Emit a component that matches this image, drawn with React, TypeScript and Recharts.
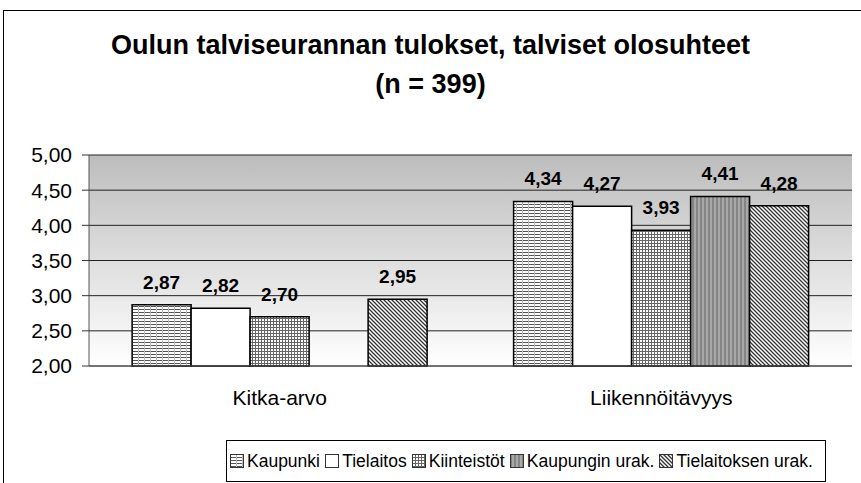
import React from 'react';
import { BarChart, Bar, XAxis, YAxis, CartesianGrid, LabelList } from 'recharts';

const categories = ['Kitka-arvo', 'Liikennöitävyys'];
const kaupunki = [2.87, 4.34];
const tielaitos = [2.82, 4.27];
const kiinteistot = [2.7, 3.93];
const kaupunginUrak = [null, 4.41];
const tielaitoksenUrak = [2.95, 4.28];
const yTicks = [2, 2.5, 3, 3.5, 4, 4.5, 5];

const data = categories.map((name, i) => ({
    name,
    kaupunki: kaupunki[i],
    tielaitos: tielaitos[i],
    kiinteistot: kiinteistot[i],
    kaupunginUrak: kaupunginUrak[i],
    tielaitoksenUrak: tielaitoksenUrak[i],
}));

const series = [
    { key: 'kaupunki', name: 'Kaupunki', fill: 'url(#pKaupunki)' },
    { key: 'tielaitos', name: 'Tielaitos', fill: '#ffffff' },
    { key: 'kiinteistot', name: 'Kiinteistöt', fill: 'url(#pKiint)' },
    { key: 'kaupunginUrak', name: 'Kaupungin urak.', fill: 'url(#pKurak)' },
    { key: 'tielaitoksenUrak', name: 'Tielaitoksen urak.', fill: 'url(#pTurak)' },
];

const fmt = (v: any) => (v == null ? '' : Number(v).toFixed(2).replace('.', ','));
const font = '"Liberation Sans", Arial, sans-serif';

function Patterns() {
    return (
        <defs>
            <linearGradient id="bgGrad" x1="0" y1="0" x2="0" y2="1">
                <stop offset="0%" stopColor="#bdbdbd" />
                <stop offset="100%" stopColor="#ffffff" />
            </linearGradient>
            <pattern id="pKaupunki" width="6" height="3" patternUnits="userSpaceOnUse">
                <rect width="6" height="3" fill="#fff" />
                <line x1="0" y1="0.5" x2="6" y2="0.5" stroke="#555" strokeWidth="1" />
                <line x1="0.5" y1="0" x2="0.5" y2="3" stroke="#bbb" strokeWidth="1" />
            </pattern>
            <pattern id="pKiint" width="3" height="3" patternUnits="userSpaceOnUse">
                <rect width="3" height="3" fill="#fff" />
                <line x1="0" y1="0.5" x2="3" y2="0.5" stroke="#666" strokeWidth="1" />
                <line x1="0.5" y1="0" x2="0.5" y2="3" stroke="#666" strokeWidth="1" />
            </pattern>
            <pattern id="pKurak" width="4" height="4" patternUnits="userSpaceOnUse">
                <rect width="4" height="4" fill="#a8a8a8" />
                <rect width="2" height="4" fill="#858585" />
            </pattern>
            <pattern id="pTurak" width="4" height="4" patternUnits="userSpaceOnUse">
                <rect width="4" height="4" fill="#fff" />
                <path d="M-1,-1 L5,5 M-1,3 L1,5 M3,-1 L5,1" stroke="#333" strokeWidth="1.3" />
            </pattern>
        </defs>
    );
}

function LegendIcon({ fill }: { fill: string }) {
    return (
        <svg width="14" height="14" style={{ marginRight: 3 }}>
            <Patterns />
            <rect x="0.5" y="0.5" width="13" height="13" fill={fill} stroke="#333" />
        </svg>
    );
}

export default function App() {
    return (
        <div style={{ position: 'absolute', left: 0, top: 0, width: 861, height: 483, overflow: 'hidden', background: '#fff', fontFamily: font }}>
            <div style={{ position: 'absolute', left: 3, top: 10, width: 900, height: 520, border: '1px solid #000', boxSizing: 'border-box' }} />
            <div style={{ position: 'absolute', left: 0, top: 26, width: 861, textAlign: 'center', fontWeight: 'bold', fontSize: 27, lineHeight: '39px' }}>
                Oulun talviseurannan tulokset, talviset olosuhteet
                <br />
                (n = 399)
            </div>
            <div style={{ position: 'absolute', left: 0, top: 0 }}>
                <BarChart width={861} height={483} data={data} margin={{ top: 155, right: 9, left: 0, bottom: 77 }} barCategoryGap="11.3%" barGap={0}>
                    <Patterns />
                    <CartesianGrid vertical={false} fill="url(#bgGrad)" stroke="#222" strokeOpacity={1} />
                    <XAxis dataKey="name" tickLine={false} axisLine={{ stroke: '#555' }} height={40} tickMargin={18}
                        tick={{ fill: '#000', fontSize: 21, fontFamily: font }} />
                    <YAxis domain={[2, 5]} ticks={yTicks} width={89} tickSize={7} tickMargin={10} tickFormatter={fmt}
                        axisLine={{ stroke: '#555' }} tickLine={{ stroke: '#333' }}
                        tick={{ fill: '#000', fontSize: 21, fontFamily: font }} />
                    {series.map((s) => (
                        <Bar key={s.key} dataKey={s.key} name={s.name} fill={s.fill} stroke="#000" strokeWidth={1.5} isAnimationActive={false}>
                            <LabelList dataKey={s.key} position="top" offset={16} formatter={fmt}
                                style={{ fill: '#000', fontSize: 19, fontWeight: 'bold', fontFamily: font }} />
                        </Bar>
                    ))}
                </BarChart>
            </div>
            <div style={{ position: 'absolute', left: 226, top: 440, width: 600, height: 42, border: '1px solid #000', boxSizing: 'border-box', display: 'flex', alignItems: 'center', justifyContent: 'space-between', padding: '0 12px 0 3px', fontSize: 17.5, whiteSpace: 'nowrap' }}>
                {series.map((s) => (
                    <span key={s.key} style={{ display: 'inline-flex', alignItems: 'center' }}>
                        <LegendIcon fill={s.fill} />
                        {s.name}
                    </span>
                ))}
            </div>
        </div>
    );
}
